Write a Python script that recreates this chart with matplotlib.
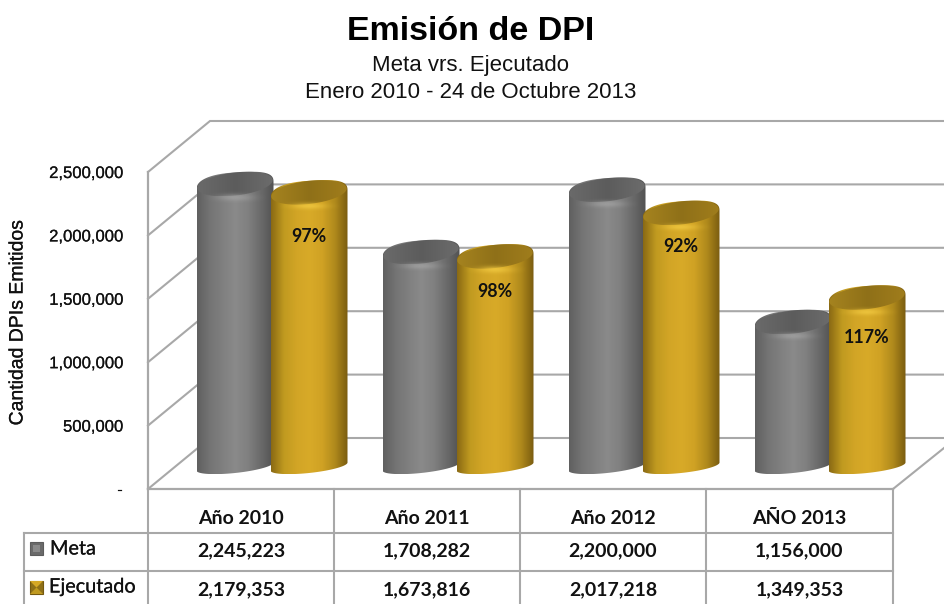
import numpy as np
import matplotlib
matplotlib.use('Agg')
import matplotlib.pyplot as plt
import matplotlib.patheffects as pe
from matplotlib.patches import PathPatch, Rectangle, Polygon
from matplotlib.path import Path
from matplotlib.colors import LinearSegmentedColormap

# data
categories = ['Año 2010', 'Año 2011', 'Año 2012', 'AÑO 2013']
meta = [2245223, 1708282, 2200000, 1156000]
ejecutado = [2179353, 1673816, 2017218, 1349353]
percent = ['97%', '98%', '92%', '117%']
y_ticks = [0, 500000, 1000000, 1500000, 2000000, 2500000]

W, H = 944, 604
GRID = '#a8a8a8'
PX_PER_VAL = 0.1267e-3   # pixels per unit on the bars
heavy = [pe.withStroke(linewidth=0.15, foreground='#111111')]

gray_cmap = LinearSegmentedColormap.from_list('g', ['#606060', '#747474', '#808080', '#8a8a8a', '#808080', '#6a6a6a', '#525252'])
gold_cmap = LinearSegmentedColormap.from_list('y', ['#8a6a14', '#c09a20', '#d2a526', '#d8aa28', '#d0a224', '#b08a1c', '#7a5c10'])
gray_cap = LinearSegmentedColormap.from_list('gc', ['#6a6a6a', '#5c5c5c', '#6c6c6c'])
gold_cap = LinearSegmentedColormap.from_list('yc', ['#a5831f', '#8f7018', '#a07d1c'])

fig = plt.figure(figsize=(W / 100, H / 100), dpi=100, facecolor='white')

# background in pixels: walls, floor, table, titles
bg = fig.add_axes([0, 0, 1, 1], zorder=0)
bg.set_xlim(0, W)
bg.set_ylim(H, 0)
bg.axis('off')

# real y axis along the left wall
wall_left, wall_right, wall_top, wall_bottom = 148, 893, 172, 489
wall = fig.add_axes([wall_left / W, (H - wall_bottom) / H,
                     (wall_right - wall_left) / W, (wall_bottom - wall_top) / H],
                    zorder=1, facecolor='none')
wall.set_ylim(0, 2500000)
wall.set_xlim(-0.5, 3.5)
wall.set_xticks([])
wall.set_yticks(y_ticks)
wall.set_yticklabels(['-' if v == 0 else f'{v:,}' for v in y_ticks],
                     fontfamily='Liberation Sans', fontsize=12, color='#111111', path_effects=heavy)
wall.tick_params(axis='y', length=0, pad=18)
for s in ['top', 'right']:
    wall.spines[s].set_visible(False)
for s in ['left', 'bottom']:
    wall.spines[s].set_color(GRID)
    wall.spines[s].set_linewidth(1.6)

# gridlines: diagonal on the side wall, horizontal on the back wall
dx, dy = 62, -51
for v in y_ticks:
    y = wall_bottom - (wall_bottom - wall_top) * v / 2500000
    bg.plot([wall_left, wall_left + dx, W], [y, y + dy, y + dy], color=GRID, lw=1.5, solid_joinstyle='miter')
bg.plot([wall_right, W], [wall_bottom, wall_bottom - 41], color=GRID, lw=1.5)

# table
col_x = [148, 334, 520, 706, 893]
row_y = [533, 571]
for x in col_x:
    bg.plot([x, x], [wall_bottom, H], color=GRID, lw=1.5)
bg.plot([24, 24], [row_y[0], H], color=GRID, lw=1.5)
for y in row_y:
    bg.plot([24, wall_right], [y, y], color=GRID, lw=1.5)

table_font = dict(family='Lato', fontweight='bold', fontsize=14, color='#111111', ha='center', va='center')
for i in range(4):
    xc = (col_x[i] + col_x[i + 1]) / 2
    bg.text(xc, 518, categories[i], **table_font)
    bg.text(xc, 551, f'{meta[i]:,}', **table_font)
    bg.text(xc, 590, f'{ejecutado[i]:,}', **table_font)

# legend swatches
bg.add_patch(Rectangle((30, 542), 13, 13, fc='#6a6a6a', ec='#5c5c5c', lw=0.8))
bg.add_patch(Rectangle((33, 545), 7, 7, fc='#8a8a8a', ec='none'))
bg.add_patch(Rectangle((30, 581), 13, 13, fc='#8f7018', ec='#75590f', lw=0.8))
bg.add_patch(Polygon([(30, 581), (43, 581), (36.5, 587.5)], fc='#d6a826', ec='none'))
bg.add_patch(Polygon([(30, 594), (43, 594), (36.5, 587.5)], fc='#c09a20', ec='none'))
bg.text(50, 549, 'Meta', family='Lato', fontsize=14.3, color='#111111', va='center', path_effects=heavy)
bg.text(49, 587, 'Ejecutado', family='Lato', fontsize=14.3, color='#111111', va='center', path_effects=heavy)

# titles
bg.text(471, 32, 'Emisión de DPI', family='Liberation Sans', fontweight='bold', fontsize=24.5,
        ha='center', va='center', color='#000000')
bg.text(471, 66, 'Meta vrs. Ejecutado', family='Liberation Sans', fontsize=16,
        ha='center', va='center', color='#111111')
bg.text(471, 93, 'Enero 2010 - 24 de Octubre 2013', family='Liberation Sans', fontsize=16,
        ha='center', va='center', color='#111111')
bg.text(18, 322, 'Cantidad DPIs Emitidos', family='Liberation Sans', fontsize=14, rotation=90,
        ha='center', va='center', color='#111111', path_effects=heavy)

# bars axis: x in category units, y in the chart's values
GROUP_PX = 186.0
X0_PX = 272.0
BASE_PX = 470.5
ax = fig.add_axes([0, 0, 1, 1], zorder=2, facecolor='none')
ax.set_xlim((0 - X0_PX) / GROUP_PX, (W - X0_PX) / GROUP_PX)
ax.set_ylim((BASE_PX - H) / PX_PER_VAL, BASE_PX / PX_PER_VAL)
ax.axis('off')
ax.autoscale(False)

rx = 38.5 / GROUP_PX
ry_top = 13.5 / PX_PER_VAL
ry_base = 6.5 / PX_PER_VAL
tilt = 4.0 / PX_PER_VAL
base_lift = 4.0 / PX_PER_VAL
pct_offset = [42, 33, 32, 38]   # pixels below the top of the bar


def arc(cx, cy, a, b, t, n=1.0):
    # tilted ellipse, right side sits higher; n < 1 squares off the shoulders
    c, s = np.cos(t), np.sin(t)
    return cx + a * np.sign(c) * np.abs(c) ** n, cy + b * np.sign(s) * np.abs(s) ** n + tilt * c


def cylinder(cx, value, cmap, capmap, glow, z):
    t_top = np.linspace(np.pi, 0, 80)
    t_low = np.linspace(0, -np.pi, 60)
    xt, yt = arc(cx, value, rx, ry_top, t_top, 0.75)
    xb, yb = arc(cx, base_lift, rx, ry_base, t_low)
    pts = np.column_stack([np.r_[xt, xb], np.r_[yt, yb]])
    body = PathPatch(Path(np.vstack([pts, pts[0]]), closed=True), fc='none', ec='none', zorder=z)
    ax.add_patch(body)
    ymin, ymax = pts[:, 1].min(), pts[:, 1].max()
    im = ax.imshow(np.linspace(0, 1, 128)[None, :], cmap=cmap, aspect='auto', zorder=z,
                   extent=[cx - rx, cx + rx, ymin, ymax], interpolation='bilinear')
    im.set_clip_path(body)

    # dark top face
    t = np.linspace(0, 2 * np.pi, 90)
    xc, yc = arc(cx, value + 2 / PX_PER_VAL, rx * 0.98, ry_top * 0.86, t)
    cap = PathPatch(Path(np.column_stack([xc, yc]), closed=False), fc='none', ec='none', zorder=z + 0.2)
    ax.add_patch(cap)
    im2 = ax.imshow(np.linspace(0, 1, 64)[None, :], cmap=capmap, aspect='auto', zorder=z + 0.2,
                    extent=[cx - rx, cx + rx, yc.min(), yc.max()], interpolation='bilinear')
    im2.set_clip_path(cap)

    # soft highlight on the rim under the top face
    gx, gy = np.meshgrid(np.linspace(-1, 1, 80), np.linspace(-1, 1, 40))
    rgba = np.zeros((40, 80, 4))
    rgba[..., :3] = matplotlib.colors.to_rgb(glow)
    rgba[..., 3] = 0.8 * np.exp(-(gx ** 2 + gy ** 2) * 3.5)
    gh = 6 / PX_PER_VAL
    gc = value - 12 / PX_PER_VAL
    im3 = ax.imshow(rgba, aspect='auto', zorder=z + 0.3, extent=[cx - rx * 0.8, cx + rx * 0.8, gc - gh, gc + gh],
                    interpolation='bilinear')
    im3.set_clip_path(body)


offset = 37.0 / GROUP_PX
for i in range(4):
    cylinder(i - offset, meta[i], gray_cmap, gray_cap, '#a0a0a0', 3 + i)
    cylinder(i + offset, ejecutado[i], gold_cmap, gold_cap, '#f0c840', 3.5 + i)
    ax.text(i + offset, ejecutado[i] - pct_offset[i] / PX_PER_VAL, percent[i], family='Lato', fontweight='bold',
            fontsize=12.8, ha='center', va='center', color='#111111', zorder=10)

fig.savefig('out.png', dpi=100, facecolor='white')
